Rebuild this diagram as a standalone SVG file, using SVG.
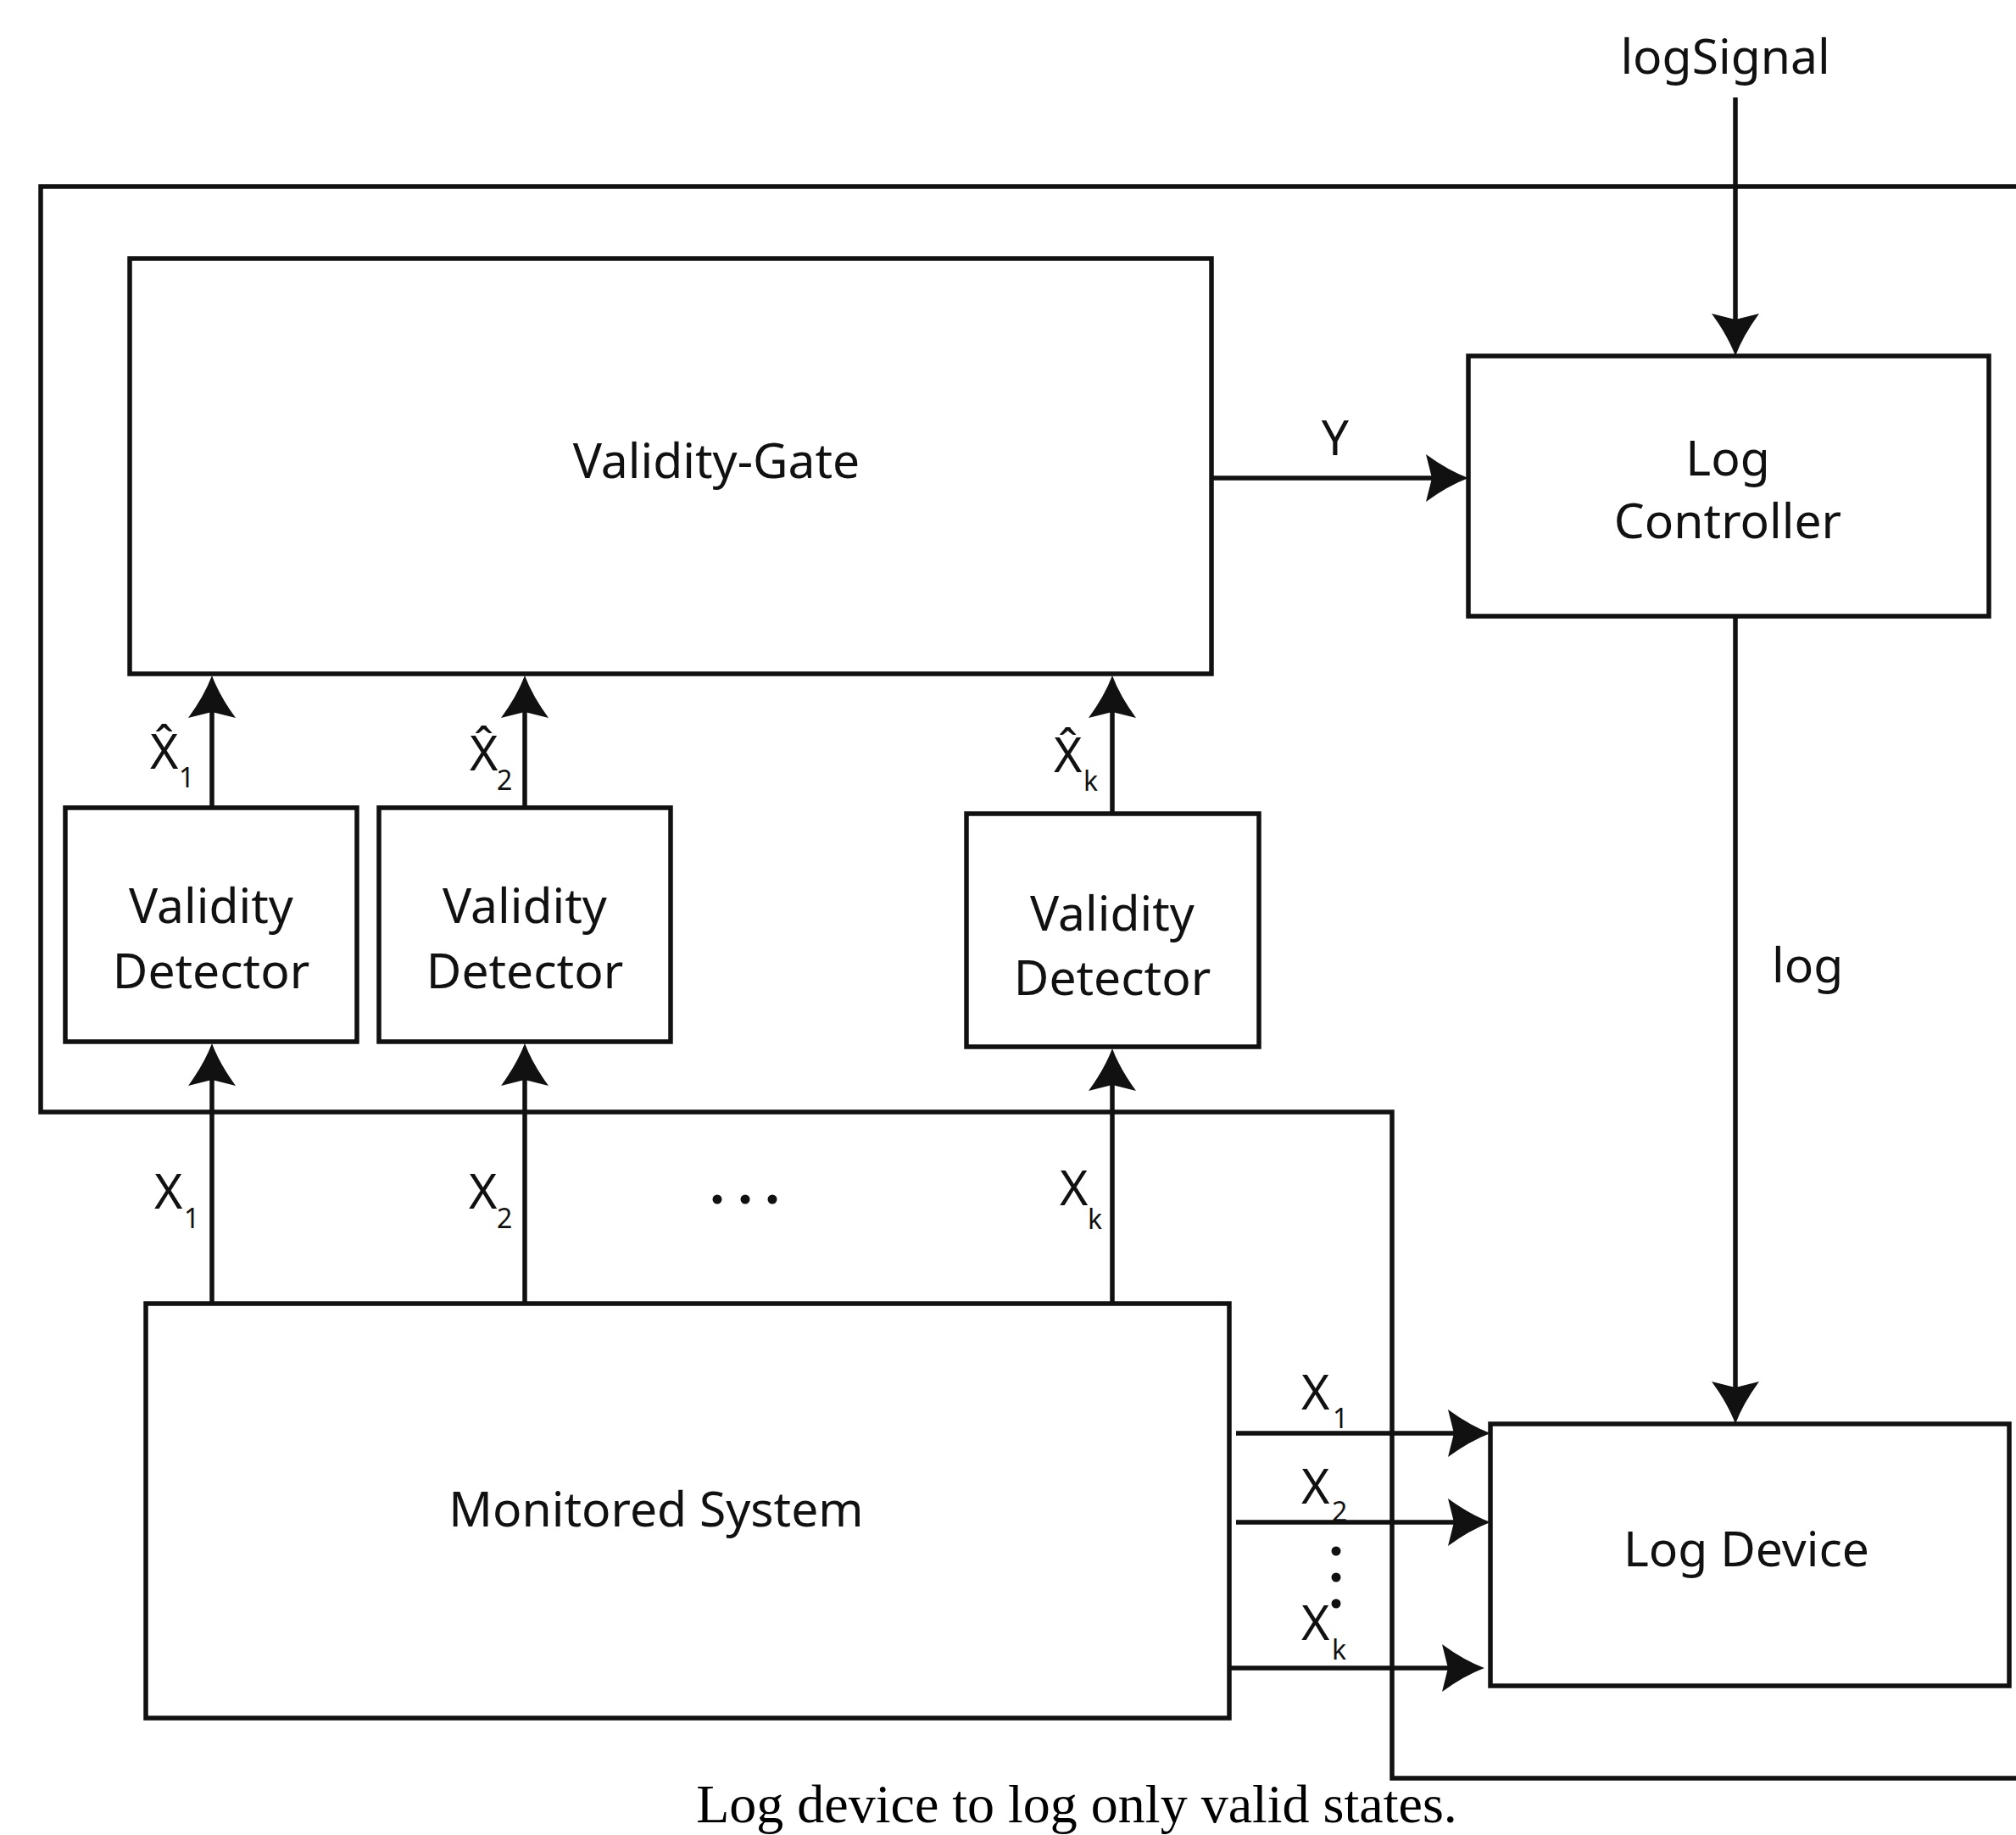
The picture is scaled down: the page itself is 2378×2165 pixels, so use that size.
<svg xmlns="http://www.w3.org/2000/svg" width="2378" height="2165" viewBox="0 0 2378 2165">
<style>
.box{fill:#fff;stroke:#111;stroke-width:5.5}
.ln{fill:none;stroke:#111;stroke-width:5.5}
.lt{font-family:"Noto Sans","Open Sans",sans-serif;font-size:57px;fill:#111}
.c{text-anchor:middle}
.sub{font-family:"Noto Sans","Open Sans",sans-serif;font-size:32px;fill:#111}
.cap{font-family:"Liberation Serif","Times New Roman",serif;font-size:64px;fill:#000;text-anchor:middle}
.dot{fill:#111}
</style>
<defs>
<marker id="ah" viewBox="-52 -30 54 60" refX="-40" refY="0" markerWidth="54" markerHeight="60" markerUnits="userSpaceOnUse" orient="auto">
<path d="M0,0 Q-24,-9 -50,-28 L-43,0 L-50,28 Q-24,9 0,0 Z" fill="#111"/>
</marker>
</defs>
<rect width="2378" height="2165" fill="#fff"/>
<g id="frame">
<path class="ln" d="M2380,220 H48 V1312 H1642 V2098 H2380"/>
</g>
<g id="connectors">
<path class="ln" d="M2047,115 V380" marker-end="url(#ah)"/>
<path class="ln" d="M1429,564 H1692" marker-end="url(#ah)"/>
<path class="ln" d="M2047,727 V1640" marker-end="url(#ah)"/>
<path class="ln" d="M250,953 V837" marker-end="url(#ah)"/>
<path class="ln" d="M619,953 V837" marker-end="url(#ah)"/>
<path class="ln" d="M1312,960 V837" marker-end="url(#ah)"/>
<path class="ln" d="M250,1538 V1271" marker-end="url(#ah)"/>
<path class="ln" d="M619,1538 V1271" marker-end="url(#ah)"/>
<path class="ln" d="M1312,1538 V1277" marker-end="url(#ah)"/>
<path class="ln" d="M1458,1691 H1718" marker-end="url(#ah)"/>
<path class="ln" d="M1458,1796 H1718" marker-end="url(#ah)"/>
<path class="ln" d="M1450,1968 H1711" stroke-width="4.5" marker-end="url(#ah)"/>
</g>
<g id="validity-gate">
<rect class="box" x="153" y="305" width="1276" height="490"/>
<text class="lt c" x="845" y="564">Validity-Gate</text>
</g>
<g id="log-controller">
<rect class="box" x="1732" y="420" width="614" height="307"/>
<text class="lt c" x="2038" y="561">Log</text>
<text class="lt c" x="2038" y="635">Controller</text>
</g>
<g id="validity-detector-1">
<rect class="box" x="77" y="953" width="344" height="276"/>
<text class="lt c" x="249" y="1089">Validity</text>
<text class="lt c" x="249" y="1166">Detector</text>
</g>
<g id="validity-detector-2">
<rect class="box" x="447" y="953" width="344" height="276"/>
<text class="lt c" x="619" y="1089">Validity</text>
<text class="lt c" x="619" y="1166">Detector</text>
</g>
<g id="validity-detector-k">
<rect class="box" x="1140" y="960" width="345" height="275"/>
<text class="lt c" x="1312" y="1098">Validity</text>
<text class="lt c" x="1312" y="1174">Detector</text>
</g>
<g id="monitored-system">
<rect class="box" x="172" y="1538" width="1278" height="489"/>
<text class="lt c" x="774" y="1801">Monitored System</text>
</g>
<g id="log-device">
<rect class="box" x="1758" y="1680" width="612" height="309"/>
<text class="lt c" x="2060" y="1848">Log Device</text>
</g>
<g id="labels">
<text class="lt c" x="2035" y="87">logSignal</text>
<text class="lt c" x="1575" y="537">Y</text>
<text class="lt" x="2090" y="1159">log</text>
<text class="lt" x="177" y="907">X̂</text><text class="sub" x="211" y="929">1</text>
<text class="lt" x="554" y="909">X̂</text><text class="sub" x="586" y="932">2</text>
<text class="lt" x="1243" y="911">X̂</text><text class="sub" x="1278" y="933">k</text>
<text class="lt" x="182" y="1426">X</text><text class="sub" x="217" y="1449">1</text>
<text class="lt" x="553" y="1426">X</text><text class="sub" x="586" y="1449">2</text>
<text class="lt" x="1250" y="1422">X</text><text class="sub" x="1283" y="1450">k</text>
<text class="lt" x="1535" y="1663">X</text><text class="sub" x="1572" y="1685">1</text>
<text class="lt" x="1535" y="1774">X</text><text class="sub" x="1571" y="1795">2</text>
<text class="lt" x="1535" y="1935">X</text><text class="sub" x="1571" y="1958">k</text>
<circle class="dot" cx="846" cy="1415" r="5.5"/>
<circle class="dot" cx="879" cy="1415" r="5.5"/>
<circle class="dot" cx="911" cy="1415" r="5.5"/>
<circle class="dot" cx="1576" cy="1830" r="5.5"/>
<circle class="dot" cx="1576" cy="1861" r="5.5"/>
<circle class="dot" cx="1576" cy="1892" r="5.5"/>
</g>
<text class="cap" x="1270" y="2150">Log device to log only valid states.</text>
</svg>
